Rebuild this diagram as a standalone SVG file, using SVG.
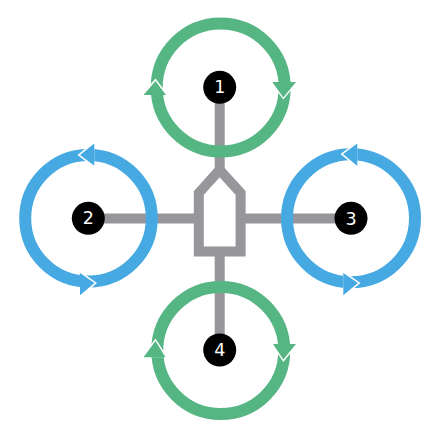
<svg xmlns="http://www.w3.org/2000/svg" width="440" height="440" viewBox="0 0 440 440">
<style>
.arm{stroke:#96969b;stroke-width:10;fill:none}
.g{fill:none;stroke:#55b583;stroke-width:12}
.b{fill:none;stroke:#46a9e2;stroke-width:12}
.gh{fill:#55b583}
.bh{fill:#46a9e2}
.gap{fill:#fff}
.hub{fill:#000}
.num{fill:#fff;font-family:"DejaVu Sans",sans-serif;font-size:17.5px;text-anchor:middle}
</style>
<rect width="440" height="440" fill="#fff"/>
<g id="connectors">
<path class="arm" d="M219.7 87V170M219.7 251.5V350M88 218.500H199M240.500 218.500H351"/>
</g>
<g id="body">
<path class="arm" d="M198.800 193L219.600 170L240.600 193V251.500H198.800Z"/>
</g>
<g id="rotor-1">
<circle class="g" cx="220.700" cy="87.500" r="64"/>
<path class="gap" d="M270.300 82L283.300 99.500L298 82ZM141.500 95L155.500 78.500L168 95Z"/>
<path class="gh" d="M272.300 82L283.300 97.500L296 82ZM143.500 95L155.500 81L166 95Z"/>
<circle class="hub" cx="219.700" cy="87.300" r="16.500"/>
<text class="num" x="219.700" y="92.800">1</text>
</g>
<g id="rotor-2">
<circle class="b" cx="88.500" cy="218.200" r="63.300"/>
<path class="gap" d="M94.300 141.500L77.500 155L94.300 167.700ZM80 271L97 283L80 297.300Z"/>
<path class="bh" d="M94.300 143.500L80 155L94.300 165.700ZM80 273L94.500 283L80 295.300Z"/>
<circle class="hub" cx="88.300" cy="218.300" r="16.500"/>
<text class="num" x="88.300" y="224.400">2</text>
</g>
<g id="rotor-3">
<circle class="b" cx="351" cy="218.300" r="64"/>
<path class="gap" d="M357.300 141.500L340.500 154L357.300 168ZM343.300 271L360.500 283L343.300 297.300Z"/>
<path class="bh" d="M357.300 143.500L343 154L357.300 166ZM343.300 273L358 283L343.300 295.300Z"/>
<circle class="hub" cx="351" cy="218.300" r="16.500"/>
<text class="num" x="351" y="224.800">3</text>
</g>
<g id="rotor-4">
<circle class="g" cx="220.800" cy="350.500" r="63.500"/>
<path class="gap" d="M271 344L283.300 362L298 344ZM141.500 357.300L155.500 338.500L167.500 357.300Z"/>
<path class="gh" d="M273 344L283.300 359.500L296 344ZM143.500 357.300L155.500 341L165.500 357.300Z"/>
<circle class="hub" cx="219.700" cy="350" r="16.500"/>
<text class="num" x="219.700" y="356.400">4</text>
</g>
</svg>
